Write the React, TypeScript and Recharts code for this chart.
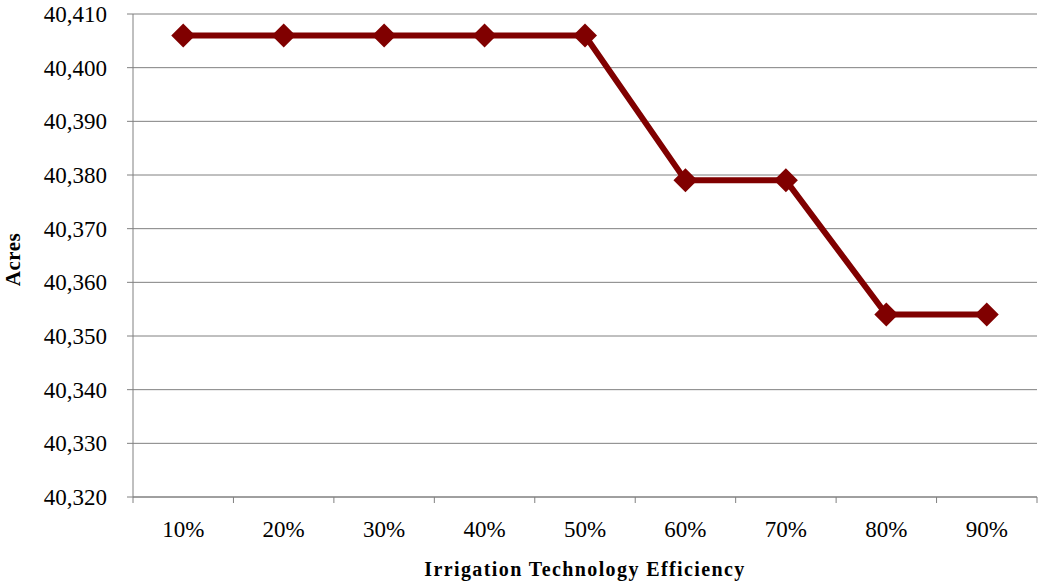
import { CartesianGrid, Line, LineChart, XAxis, YAxis } from 'recharts';

const categories = ['10%', '20%', '30%', '40%', '50%', '60%', '70%', '80%', '90%'];
const acres = [40406, 40406, 40406, 40406, 40406, 40379, 40379, 40354, 40354];
const yTicks = [40320, 40330, 40340, 40350, 40360, 40370, 40380, 40390, 40400, 40410];

const chartData = categories.map((name, i) => ({ idx: i + 1, name, acres: acres[i] }));
// ticks at category centers (labels) and category edges (tick marks)
const xTicks = [
  ...categories.map((_, i) => i + 1),
  ...categories.map((_, i) => i + 0.5),
  categories.length + 0.5,
];

const font = '"Liberation Serif", "Times New Roman", serif';
const axisGray = '#808080';
const lineColor = '#800000';

const Diamond = (props: any) => {
  const { cx, cy } = props;
  if (cx == null || cy == null) return null;
  const r = 12;
  return (
    <polygon
      points={`${cx},${cy - r} ${cx + r},${cy} ${cx},${cy + r} ${cx - r},${cy}`}
      fill={lineColor}
    />
  );
};

const XTick = (props: any) => {
  const { x, y, payload } = props;
  const v = Number(payload.value);
  if (Number.isInteger(v)) {
    return (
      <text x={x} y={y + 24} dy="0.71em" textAnchor="middle" fill="#000" fontSize={23} fontFamily={font}>
        {categories[v - 1]}
      </text>
    );
  }
  return <line x1={x} x2={x} y1={y} y2={y + 6} stroke={axisGray} strokeWidth={1} />;
};

const XTitle = (props: any) => {
  const { x, width } = props.viewBox;
  return (
    <text
      x={x + width / 2}
      y={576}
      textAnchor="middle"
      fill="#000"
      fontSize={20}
      fontWeight="bold"
      letterSpacing={1.4}
      fontFamily={font}
    >
      Irrigation Technology Efficiency
    </text>
  );
};

const YTitle = (props: any) => {
  const { y, height } = props.viewBox;
  const cy = y + height / 2 + 4;
  return (
    <text
      x={20}
      y={cy}
      transform={`rotate(-90 20 ${cy})`}
      textAnchor="middle"
      fill="#000"
      fontSize={21}
      fontWeight="bold"
      letterSpacing={0.5}
      fontFamily={font}
    >
      Acres
    </text>
  );
};

export default function App() {
  return (
    <div style={{ position: 'absolute', left: 0, top: 0, fontFamily: font }}>
      <LineChart
        width={1039}
        height={582}
        data={chartData}
        margin={{ top: 14, right: 2, left: 0, bottom: 0 }}
      >
        <CartesianGrid horizontal vertical={false} stroke={axisGray} strokeWidth={1} />
        <XAxis
          dataKey="idx"
          type="number"
          domain={[0.5, categories.length + 0.5]}
          ticks={xTicks}
          interval={0}
          tick={<XTick />}
          tickLine={false}
          tickSize={0}
          tickMargin={0}
          stroke={axisGray}
          height={85}
          label={<XTitle />}
        />
        <YAxis
          domain={[40320, 40410]}
          ticks={yTicks}
          interval={0}
          width={133}
          tickSize={6}
          tickMargin={20}
          stroke={axisGray}
          tickFormatter={(v) => Number(v).toLocaleString('en-US')}
          tick={{ fill: '#000', fontSize: 23, fontFamily: font }}
          label={<YTitle />}
        />
        <Line
          dataKey="acres"
          stroke={lineColor}
          strokeWidth={6}
          dot={<Diamond />}
          activeDot={false}
          isAnimationActive={false}
        />
      </LineChart>
    </div>
  );
}
